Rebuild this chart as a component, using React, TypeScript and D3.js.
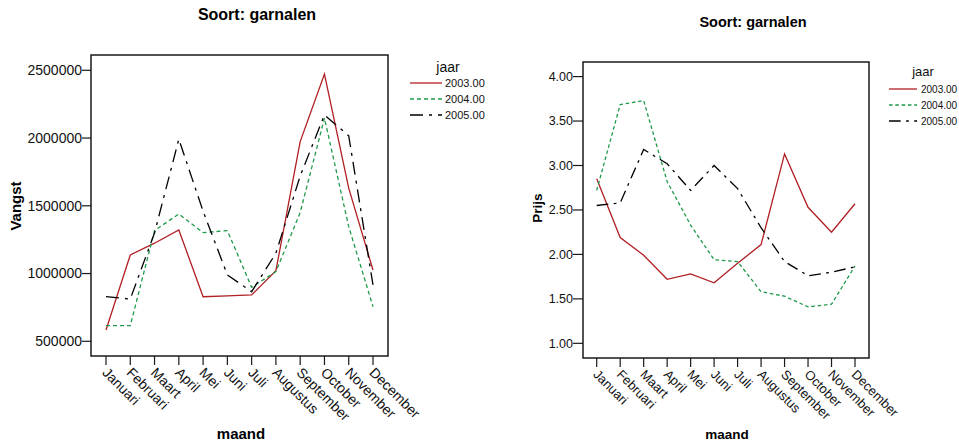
import React from 'react';
import * as d3 from 'd3';

const months = ['Januari','Februari','Maart','April','Mei','Juni','Juli','Augustus','September','October','November','December'];
const years = ['2003.00','2004.00','2005.00'];

const vangst2003 = [583000,1137000,1224000,1322000,829000,835000,842000,1021000,1974000,2472000,1630000,1026000];
const vangst2004 = [615000,615000,1317000,1440000,1302000,1317000,899000,1014000,1450000,2147000,1346000,755000];
const vangst2005 = [829000,812000,1300000,1992000,1460000,990000,866000,1150000,1720000,2171000,2016000,916000];

const prijs2003 = [2.85,2.19,1.99,1.72,1.78,1.68,1.90,2.11,3.13,2.53,2.25,2.57];
const prijs2004 = [2.72,3.685,3.73,2.82,2.33,1.94,1.92,1.58,1.53,1.41,1.44,1.87];
const prijs2005 = [2.55,2.58,3.18,3.02,2.72,3.00,2.74,2.30,1.92,1.76,1.80,1.86];

const vangstTicks = [500000,1000000,1500000,2000000,2500000];
const prijsTicks = [1,1.5,2,2.5,3,3.5,4];

const COLORS = ['#b01f24','#1f9a4a','#000000'];
const DASHES = ['none','4,3','13,6,3,6'];
const FONT = '"Liberation Sans", Arial, Helvetica, sans-serif';

type PanelProps = {
  title: string; yTitle: string;
  series: number[][]; ticks: number[]; fmt: (v: number) => string;
  frame: { x0: number; x1: number; y0: number; y1: number };
  xRange: [number, number]; yDomain: [number, number];
  titleX: number; titleY: number; titleSize: number;
  yTitleX: number; yTitleY: number; axisTitleSize: number;
  xTitleX: number;
  tickSize: number; tickLen: number; monthSize: number;
  legend: { titleX: number; titleY: number; titleSize: number; lx0: number; lx1: number; rows: number[]; textX: number; textSize: number };
  dashScale: number;
};

function Panel(p: PanelProps) {
  const x = d3.scalePoint<string>().domain(months).range(p.xRange);
  const y = d3.scaleLinear().domain(p.yDomain).range([p.frame.y1, p.frame.y0]);
  const line = d3.line<number>().x((_, i) => x(months[i]) as number).y(v => y(v));
  const { x0, x1, y0, y1 } = p.frame;
  const dash = (i: number) => DASHES[i] === 'none' ? undefined : DASHES[i].split(',').map(n => +n * p.dashScale).join(',');
  return (
    <g fontFamily={FONT}>
      <text x={p.titleX} y={p.titleY} textAnchor="middle" fontWeight="bold" fontSize={p.titleSize}>{p.title}</text>
      {p.series.map((s, i) => (
        <path key={i} d={line(s) || ''} fill="none" stroke={COLORS[i]} strokeWidth={1.3} strokeDasharray={dash(i)} />
      ))}
      <rect x={x0} y={y0} width={x1 - x0} height={y1 - y0} fill="none" stroke="#1a1a1a" strokeWidth={1.5} />
      {p.ticks.map(t => (
        <g key={t}>
          <line x1={x0 - p.tickLen} x2={x0} y1={y(t)} y2={y(t)} stroke="#1a1a1a" strokeWidth={1.2} />
          <text x={x0 - p.tickLen} y={y(t)} dy="0.35em" textAnchor="end" fontSize={p.tickSize} fill="#111">{p.fmt(t)}</text>
        </g>
      ))}
      {months.map(m => (
        <g key={m}>
          <line x1={x(m)} x2={x(m)} y1={y1} y2={y1 + 9} stroke="#1a1a1a" strokeWidth={1.2} />
          <text transform={`translate(${(x(m) as number) - 1},${y1 + 14}) rotate(45)`} dy="0.35em" fontSize={p.monthSize} fill="#111">{m}</text>
        </g>
      ))}
      <text transform={`translate(${p.yTitleX},${p.yTitleY}) rotate(-90)`} textAnchor="middle" fontWeight="bold" fontSize={p.axisTitleSize}>{p.yTitle}</text>
      <text x={p.xTitleX} y={439} textAnchor="middle" fontWeight="bold" fontSize={p.axisTitleSize}>maand</text>
      <text x={p.legend.titleX} y={p.legend.titleY} textAnchor="middle" fontSize={p.legend.titleSize} fill="#111">jaar</text>
      {years.map((yr, i) => (
        <g key={yr}>
          <line x1={p.legend.lx0} x2={p.legend.lx1} y1={p.legend.rows[i]} y2={p.legend.rows[i]} stroke={COLORS[i]} strokeWidth={1.3} strokeDasharray={dash(i)} />
          <text x={p.legend.textX} y={p.legend.rows[i]} dy="0.35em" fontSize={p.legend.textSize} fill="#111">{yr}</text>
        </g>
      ))}
    </g>
  );
}

export default function App() {
  return (
    <svg width={959} height={446} style={{ position: 'absolute', left: 0, top: 0, background: '#fff' }}>
      <rect width={959} height={446} fill="#fff" />
      <Panel
        title="Soort: garnalen" yTitle="Vangst"
        series={[vangst2003, vangst2004, vangst2005]} ticks={vangstTicks} fmt={v => String(v)}
        frame={{ x0: 91, x1: 388, y0: 55, y1: 356 }}
        xRange={[106, 373]} yDomain={[391500, 2612900]}
        titleX={257} titleY={20} titleSize={16}
        yTitleX={21} yTitleY={206} axisTitleSize={15} xTitleX={241}
        tickSize={14} tickLen={9} monthSize={14}
        legend={{ titleX: 448, titleY: 72, titleSize: 14, lx0: 410, lx1: 442, rows: [83, 99, 115], textX: 445, textSize: 11 }}
        dashScale={1}
      />
      <Panel
        title="Soort: garnalen" yTitle="Prijs"
        series={[prijs2003, prijs2004, prijs2005]} ticks={prijsTicks} fmt={v => v.toFixed(2)}
        frame={{ x0: 583, x1: 869, y0: 62, y1: 358 }}
        xRange={[596.7, 855]} yDomain={[0.835, 4.164]}
        titleX={753} titleY={27} titleSize={14.5}
        yTitleX={542} yTitleY={208} axisTitleSize={13.5} xTitleX={727}
        tickSize={12.5} tickLen={10} monthSize={13}
        legend={{ titleX: 923, titleY: 76, titleSize: 13, lx0: 889, lx1: 917, rows: [89, 105, 121], textX: 921, textSize: 10 }}
        dashScale={0.9}
      />
    </svg>
  );
}
